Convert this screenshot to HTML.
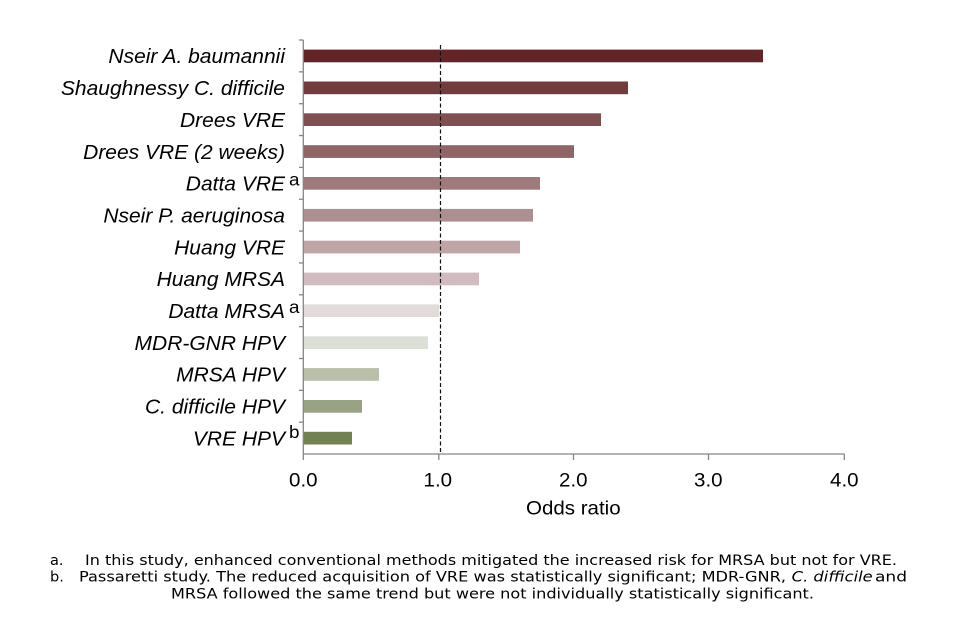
<!DOCTYPE html>
<html>
<head>
<meta charset="utf-8">
<style>
  html,body{margin:0;padding:0;background:#ffffff;}
  body{width:957px;height:643px;overflow:hidden;}
  svg{display:block;}
  .lab{font-family:"Liberation Sans",Arial,sans-serif;font-style:italic;font-size:20px;fill:#000;}
  .sup{font-family:"Liberation Sans",Arial,sans-serif;font-size:17.5px;fill:#000;}
  .tick{font-family:"Liberation Sans",Arial,sans-serif;font-size:19px;fill:#000;}
  .fn{font-family:"DejaVu Sans","Liberation Sans",sans-serif;font-size:14.5px;fill:#000;}
</style>
</head>
<body>
<svg width="957" height="643" viewBox="0 0 957 643" xmlns="http://www.w3.org/2000/svg">
  <rect x="0" y="0" width="957" height="643" fill="#ffffff"/>

  <!-- bars -->
  <rect x="303.3" y="49.6"  width="459.7" height="12.7" fill="#632425"/>
  <rect x="303.3" y="81.5"  width="324.7" height="12.7" fill="#723c3c"/>
  <rect x="303.3" y="113.3" width="297.7" height="12.7" fill="#805051"/>
  <rect x="303.3" y="145.2" width="270.7" height="12.7" fill="#906566"/>
  <rect x="303.3" y="177.0" width="236.7" height="12.7" fill="#9f7a7a"/>
  <rect x="303.3" y="208.9" width="229.7" height="12.7" fill="#ae8f90"/>
  <rect x="303.3" y="240.7" width="216.7" height="12.7" fill="#bfa5a6"/>
  <rect x="303.3" y="272.6" width="175.7" height="12.7" fill="#d0bcbf"/>
  <rect x="303.3" y="304.4" width="135.7" height="12.7" fill="#e3dada"/>
  <rect x="303.3" y="336.3" width="124.7" height="12.7" fill="#dcdfd5"/>
  <rect x="303.3" y="368.1" width="75.7"  height="12.7" fill="#b8c0a8"/>
  <rect x="303.3" y="400.0" width="58.7"  height="12.7" fill="#97a382"/>
  <rect x="303.3" y="431.8" width="48.7"  height="12.7" fill="#728150"/>

  <!-- dashed reference line -->
  <line x1="440.5" y1="45" x2="440.5" y2="454" stroke="#111" stroke-width="1.2" stroke-dasharray="4,2.5"/>

  <!-- axes -->
  <g stroke="#868686" stroke-width="1.3" fill="none">
    <line x1="303.3" y1="40" x2="303.3" y2="454"/>
    <line x1="303.3" y1="454" x2="844.5" y2="454"/>
    <line x1="299" y1="40" x2="303.3" y2="40"/>
    <line x1="299" y1="71.85" x2="303.3" y2="71.85"/>
    <line x1="299" y1="103.7" x2="303.3" y2="103.7"/>
    <line x1="299" y1="135.55" x2="303.3" y2="135.55"/>
    <line x1="299" y1="167.4" x2="303.3" y2="167.4"/>
    <line x1="299" y1="199.25" x2="303.3" y2="199.25"/>
    <line x1="299" y1="231.1" x2="303.3" y2="231.1"/>
    <line x1="299" y1="262.95" x2="303.3" y2="262.95"/>
    <line x1="299" y1="294.8" x2="303.3" y2="294.8"/>
    <line x1="299" y1="326.65" x2="303.3" y2="326.65"/>
    <line x1="299" y1="358.5" x2="303.3" y2="358.5"/>
    <line x1="299" y1="390.35" x2="303.3" y2="390.35"/>
    <line x1="299" y1="422.2" x2="303.3" y2="422.2"/>
    <line x1="303.3" y1="454" x2="303.3" y2="460"/>
    <line x1="438.8" y1="454" x2="438.8" y2="460"/>
    <line x1="573.5" y1="454" x2="573.5" y2="460"/>
    <line x1="708.5" y1="454" x2="708.5" y2="460"/>
    <line x1="844.3" y1="454" x2="844.3" y2="460"/>
  </g>

  <!-- category labels -->
  <g class="lab" text-anchor="end">
    <text transform="translate(285,63.2) scale(1.05,1)">Nseir A. baumannii</text>
    <text transform="translate(285,95.1) scale(1.05,1)">Shaughnessy C. difficile</text>
    <text transform="translate(285,126.9) scale(1.05,1)">Drees VRE</text>
    <text transform="translate(285,158.8) scale(1.05,1)">Drees VRE (2 weeks)</text>
    <text transform="translate(285,190.6) scale(1.05,1)">Datta VRE</text>
    <text transform="translate(285,222.5) scale(1.05,1)">Nseir P. aeruginosa</text>
    <text transform="translate(285,254.3) scale(1.05,1)">Huang VRE</text>
    <text transform="translate(285,286.2) scale(1.05,1)">Huang MRSA</text>
    <text transform="translate(285,318.0) scale(1.05,1)">Datta MRSA</text>
    <text transform="translate(285,349.9) scale(1.05,1)">MDR-GNR HPV</text>
    <text transform="translate(285,381.7) scale(1.05,1)">MRSA HPV</text>
    <text transform="translate(285,413.6) scale(1.05,1)">C. difficile HPV</text>
    <text transform="translate(285,445.4) scale(1.05,1)">VRE HPV</text>
  </g>

  <!-- superscripts -->
  <g class="sup">
    <text transform="translate(289,185.5) scale(1.08,1)">a</text>
    <text transform="translate(289,313) scale(1.08,1)">a</text>
    <text transform="translate(289,438) scale(1.08,1)">b</text>
  </g>

  <!-- tick labels -->
  <g class="tick" text-anchor="middle">
    <text transform="translate(303.3,486.7) scale(1.08,1)">0.0</text>
    <text transform="translate(437.8,486.7) scale(1.08,1)">1.0</text>
    <text transform="translate(573.3,486.7) scale(1.08,1)">2.0</text>
    <text transform="translate(708.3,486.7) scale(1.08,1)">3.0</text>
    <text transform="translate(844.3,486.7) scale(1.08,1)">4.0</text>
    <text transform="translate(573.3,514.3) scale(1.08,1)">Odds  ratio</text>
  </g>

  <!-- footnotes -->
  <g class="fn">
    <text x="50" y="565">a.</text>
    <text x="85" y="565" textLength="812" lengthAdjust="spacingAndGlyphs">In this study, enhanced conventional methods mitigated the increased risk for MRSA  but not for VRE.</text>
    <text x="50" y="581.7">b.</text>
    <text x="79" y="581.7" textLength="707" lengthAdjust="spacingAndGlyphs">Passaretti study. The reduced acquisition of VRE was statistically significant; MDR-GNR,</text>
    <text x="791.7" y="581.7" font-style="italic" textLength="81" lengthAdjust="spacingAndGlyphs">C. difficile</text>
    <text x="875" y="581.7" textLength="32" lengthAdjust="spacingAndGlyphs">and</text>
    <text x="171" y="598.3" textLength="643" lengthAdjust="spacingAndGlyphs">MRSA  followed the same trend but were not individually statistically significant.</text>
  </g>
</svg>
</body>
</html>
